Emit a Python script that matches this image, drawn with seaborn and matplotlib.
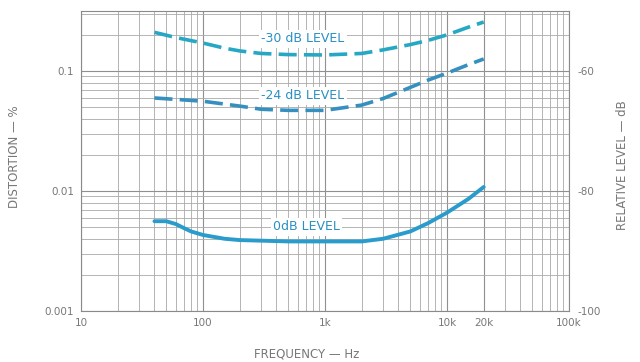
import numpy as np
import pandas as pd
import matplotlib
matplotlib.use("Agg")
import matplotlib.pyplot as plt
import seaborn as sns
from matplotlib.ticker import FixedLocator, NullFormatter, LogLocator

# distortion curves (Hz, %)
freq_30 = [40, 60, 100, 150, 200, 300, 500, 1000, 2000, 3000, 5000, 7000, 10000, 15000, 20000]
dist_30 = [0.21, 0.19, 0.171, 0.155, 0.147, 0.140, 0.137, 0.136, 0.14, 0.150, 0.166, 0.180, 0.20, 0.232, 0.256]

freq_24 = [40, 60, 100, 150, 200, 300, 500, 1000, 2000, 3000, 5000, 7000, 10000, 15000, 20000]
dist_24 = [0.0596, 0.058, 0.056, 0.053, 0.051, 0.048, 0.047, 0.047, 0.052, 0.059, 0.073, 0.084, 0.096, 0.113, 0.126]

freq_0 = [40, 50, 60, 70, 80, 100, 150, 200, 500, 1000, 2000, 3000, 5000, 7000, 10000, 15000, 20000]
dist_0 = [0.0056, 0.0056, 0.0053, 0.0049, 0.0046, 0.0043, 0.0040, 0.0039, 0.0038, 0.0038, 0.0038, 0.0040, 0.0046, 0.0054, 0.0066, 0.0086, 0.0108]

x_ticks = [10, 100, 1000, 10000, 20000, 100000]
x_labels = ["10", "100", "1k", "10k", "20k", "100k"]
y_ticks = [0.001, 0.01, 0.1]
y_labels = ["0.001", "0.01", "0.1"]
db_ticks = [-100, -80, -60]
db_labels = ["-100", "-80", "-60"]

text_col = "#2a8fc4"
gray = "#777777"

sns.set_style("white")
plt.rcParams["font.family"] = ["DejaVu Sans"]

fig = plt.figure(figsize=(6.4, 3.62), dpi=100)
ax = fig.add_axes([81 / 640, 1 - 311 / 362, 488 / 640, 300 / 362])

df30 = pd.DataFrame({"f": freq_30, "d": dist_30})
df24 = pd.DataFrame({"f": freq_24, "d": dist_24})
df0 = pd.DataFrame({"f": freq_0, "d": dist_0})

sns.lineplot(data=df30, x="f", y="d", ax=ax, color="#26a8c4", lw=2.6,
             linestyle=(0, (5, 2.0)))
sns.lineplot(data=df24, x="f", y="d", ax=ax, color="#3590c0", lw=2.6,
             linestyle=(0, (5, 2.0)))
sns.lineplot(data=df0, x="f", y="d", ax=ax, color="#2a9ccc", lw=2.8)

ax.set_xscale("log")
ax.set_yscale("log")
ax.set_xlim(10, 100000)
ax.set_ylim(0.001, 10 ** -0.5)

ax.xaxis.set_major_locator(FixedLocator(x_ticks))
ax.set_xticklabels(x_labels)
ax.xaxis.set_minor_locator(LogLocator(base=10, subs=np.arange(2, 10)))
ax.xaxis.set_minor_formatter(NullFormatter())
ax.yaxis.set_major_locator(FixedLocator(y_ticks))
ax.set_yticklabels(y_labels)
ax.yaxis.set_minor_locator(LogLocator(base=10, subs=np.arange(2, 10)))
ax.yaxis.set_minor_formatter(NullFormatter())

ax.grid(which="major", color="#909090", lw=0.8)
ax.grid(which="minor", color="#a8a8a8", lw=0.6)
ax.set_axisbelow(True)
for s in ax.spines.values():
    s.set_color("#8a8a8a")
    s.set_linewidth(0.8)

ax.tick_params(which="both", length=0, labelsize=7.5, labelcolor=gray, pad=5)
ax.set_xlabel("")
ax.set_ylabel("")

# right axis in dB
ax2 = ax.twinx()
ax2.set_ylim(-100, -50)
ax2.set_yticks(db_ticks)
ax2.set_yticklabels(db_labels)
ax2.tick_params(length=0, labelsize=7.5, labelcolor=gray, pad=6)
for s in ax2.spines.values():
    s.set_visible(False)
ax2.grid(False)

# curve labels
box = dict(facecolor="white", edgecolor="none", pad=1.5)
ax.text(660, 0.1 * 10 ** (32 / 120), "-30 dB LEVEL", color=text_col, fontsize=9,
        ha="center", va="center", bbox=box)
ax.text(660, 0.1 * 10 ** (-25 / 120), "-24 dB LEVEL", color=text_col, fontsize=9,
        ha="center", va="center", bbox=box)
ax.text(700, 0.01 * 10 ** (-36 / 120), "0dB LEVEL", color=text_col, fontsize=9,
        ha="center", va="center", bbox=box)

fig.text(15 / 640, 1 - 157 / 362, "DISTORTION — %", rotation=90, color=gray,
         fontsize=8.5, ha="center", va="center")
fig.text(622 / 640, 1 - 165 / 362, "RELATIVE LEVEL — dB", rotation=90, color=gray,
         fontsize=8.5, ha="center", va="center")
fig.text(307 / 640, 1 - 354 / 362, "FREQUENCY — Hz", color=gray,
         fontsize=8.5, ha="center", va="center")

fig.savefig("out.png", dpi=100, facecolor="white")
